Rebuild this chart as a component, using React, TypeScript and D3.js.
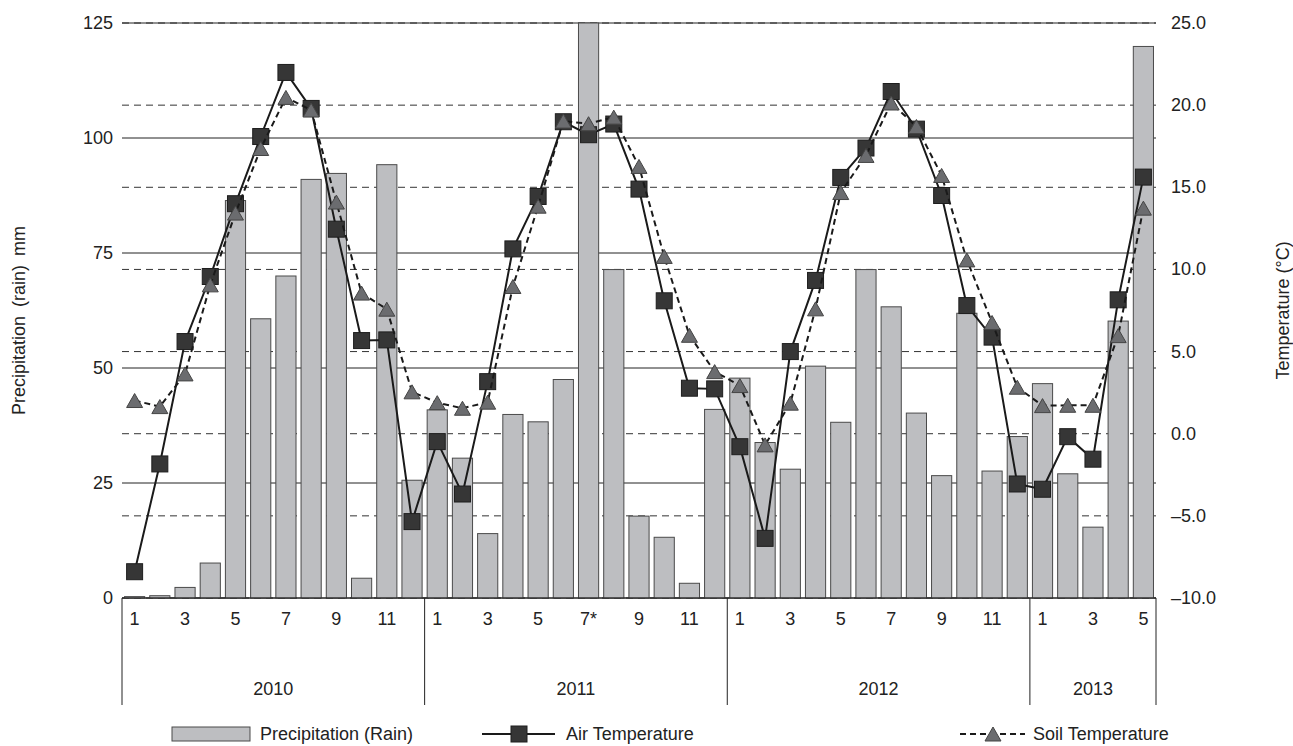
import React from "react";
import * as d3 from "d3";

// Monthly series, Jan 2010 – May 2013
const years = ["2010", "2011", "2012", "2013"];
const monthsPerYear = [12, 12, 12, 5];

const precipitation = [
  0.3, 0.5, 2.3, 7.6, 86.4, 60.7, 70.0, 91.0, 92.3, 4.3, 94.2, 25.6,
  40.9, 30.4, 14.0, 39.9, 38.3, 47.5, 150, 71.4, 17.8, 13.2, 3.2, 41.0,
  47.8, 33.8, 28.0, 50.4, 38.2, 71.4, 63.3, 40.2, 26.6, 61.9, 27.6, 35.1,
  46.6, 27.0, 15.4, 60.2, 119.9,
];

const airTemperature = [
  -8.4, -1.84, 5.61, 9.57, 14.0, 18.09, 21.99, 19.8, 12.45, 5.67, 5.71, -5.35,
  -0.48, -3.67, 3.17, 11.25, 14.44, 18.99, 18.2, 18.85, 14.89, 8.09, 2.77, 2.73,
  -0.79, -6.37, 5.0, 9.33, 15.6, 17.39, 20.83, 18.54, 14.5, 7.8, 5.88, -3.06,
  -3.38, -0.18, -1.55, 8.15, 15.62,
];

const soilTemperature = [
  2.02, 1.65, 3.64, 9.06, 13.43, 17.36, 20.47, 19.7, 14.1, 8.56, 7.58, 2.55,
  1.89, 1.55, 1.92, 8.96, 13.85, 19.03, 18.87, 19.27, 16.27, 10.79, 5.99, 3.78,
  2.93, -0.68, 1.86, 7.6, 14.68, 16.94, 20.13, 18.7, 15.72, 10.58, 6.77, 2.83,
  1.71, 1.73, 1.73, 5.97, 13.73,
];

// Month tick labels shown under the axis (every other month)
const monthTickLabels = [
  ["1", "", "3", "", "5", "", "7", "", "9", "", "11", ""],
  ["1", "", "3", "", "5", "", "7*", "", "9", "", "11", ""],
  ["1", "", "3", "", "5", "", "7", "", "9", "", "11", ""],
  ["1", "", "3", "", "5"],
];

const precipTicks = [0, 25, 50, 75, 100, 125];
const tempTicks = [-10, -5, 0, 5, 10, 15, 20, 25];

const FONT = "Arial, 'Liberation Sans', Helvetica, sans-serif";
const FS = 18;
const TEXT = "#222";

export default function App() {
  const width = 1293;
  const height = 746;
  const left = 122;
  const right = 1156;
  const top = 23;
  const bottom = 598;

  const categories = d3.range(precipitation.length);
  const x = d3
    .scaleBand<number>()
    .domain(categories)
    .range([left, right])
    .paddingInner(0.2)
    .paddingOuter(0.1);
  const xEdge = d3.scaleLinear().domain([0, categories.length]).range([left, right]);
  const cx = (i: number) => (x(i) as number) + x.bandwidth() / 2;

  const yP = d3.scaleLinear().domain([0, 125]).range([bottom, top]).clamp(true);
  const yT = d3.scaleLinear().domain([-10, 25]).range([bottom, top]);

  const tempLine = d3
    .line<number>()
    .x((_, i) => cx(i))
    .y((d) => yT(d));

  // year boundaries in category units
  const yearStarts: number[] = [];
  let acc = 0;
  monthsPerYear.forEach((m) => {
    yearStarts.push(acc);
    acc += m;
  });

  const sq = 16;
  const triW = 16;
  const triH = 14;
  const triPath = (px: number, py: number) =>
    `M${px},${py - triH / 2}L${px + triW / 2},${py + triH / 2}L${px - triW / 2},${py + triH / 2}Z`;

  const ly = 734;

  return (
    <svg
      width={width}
      height={height}
      style={{ position: "absolute", left: 0, top: 0, background: "#fff" }}
      fontFamily={FONT}
    >
      <rect x={0} y={0} width={width} height={height} fill="#fff" />

      {/* temperature grid (dashed) */}
      {tempTicks.map((t) => (
        <line
          key={"tg" + t}
          x1={left}
          x2={right}
          y1={yT(t)}
          y2={yT(t)}
          stroke="#333"
          strokeWidth={1}
          strokeDasharray="7,5"
        />
      ))}
      {/* precipitation grid (solid) */}
      {precipTicks.map((t) => (
        <line
          key={"pg" + t}
          x1={left}
          x2={right}
          y1={yP(t)}
          y2={yP(t)}
          stroke="#222"
          strokeWidth={1}
        />
      ))}

      {/* precipitation bars */}
      {precipitation.map((v, i) => (
        <rect
          key={"b" + i}
          x={x(i)}
          y={yP(v)}
          width={x.bandwidth()}
          height={bottom - yP(v)}
          fill="#bdbec1"
          stroke="#4a4a4a"
          strokeWidth={1}
        />
      ))}

      {/* x axis */}
      <line x1={left} x2={right} y1={bottom} y2={bottom} stroke="#222" strokeWidth={1} />
      {[...yearStarts, categories.length].map((k) => (
        <line
          key={"yd" + k}
          x1={xEdge(k)}
          x2={xEdge(k)}
          y1={bottom}
          y2={705}
          stroke="#222"
          strokeWidth={1}
        />
      ))}
      {monthTickLabels.map((labels, yi) =>
        labels.map((lab, mi) =>
          lab ? (
            <text
              key={`m${yi}-${mi}`}
              x={cx(yearStarts[yi] + mi)}
              y={625}
              fontSize={FS}
              textAnchor="middle"
              fill={TEXT}
            >
              {lab}
            </text>
          ) : null
        )
      )}
      {years.map((yr, yi) => (
        <text
          key={"y" + yr}
          x={(xEdge(yearStarts[yi]) + xEdge(yearStarts[yi] + monthsPerYear[yi])) / 2}
          y={695}
          fontSize={FS}
          textAnchor="middle"
          fill={TEXT}
        >
          {yr}
        </text>
      ))}

      {/* left axis labels */}
      {precipTicks.map((t) => (
        <text
          key={"pl" + t}
          x={113}
          y={yP(t) + 6}
          fontSize={FS}
          textAnchor="end"
          fill={TEXT}
        >
          {t}
        </text>
      ))}
      {/* right axis labels */}
      {tempTicks.map((t) => (
        <text key={"tl" + t} x={1171} y={yT(t) + 6} fontSize={FS} fill={TEXT}>
          {(t < 0 ? "–" : "") + Math.abs(t).toFixed(1)}
        </text>
      ))}

      {/* axis titles */}
      <text
        transform={`translate(25,${(top + bottom) / 2 + 10}) rotate(-90)`}
        fontSize={FS}
        textAnchor="middle"
        fill={TEXT}
        wordSpacing={4}
      >
        Precipitation (rain) mm
      </text>
      <text
        transform={`translate(1289,${(top + bottom) / 2}) rotate(-90)`}
        fontSize={FS}
        textAnchor="middle"
        fill={TEXT}
      >
        Temperature (°C)
      </text>

      {/* air temperature */}
      <path d={tempLine(airTemperature) || ""} fill="none" stroke="#1a1a1a" strokeWidth={2} />
      {airTemperature.map((v, i) => (
        <rect
          key={"a" + i}
          x={cx(i) - sq / 2}
          y={yT(v) - sq / 2}
          width={sq}
          height={sq}
          fill="#363636"
          stroke="#1e1e1e"
          strokeWidth={1}
        />
      ))}

      {/* soil temperature */}
      <path
        d={tempLine(soilTemperature) || ""}
        fill="none"
        stroke="#1a1a1a"
        strokeWidth={2}
        strokeDasharray="6,4"
      />
      {soilTemperature.map((v, i) => (
        <path
          key={"s" + i}
          d={triPath(cx(i), yT(v))}
          fill="#6b6c6f"
          stroke="#444"
          strokeWidth={1}
        />
      ))}

      {/* legend */}
      <rect x={172} y={ly - 7} width={78} height={14} fill="#bdbec1" stroke="#4a4a4a" strokeWidth={1} />
      <text x={260} y={ly + 6} fontSize={FS} fill={TEXT}>
        Precipitation (Rain)
      </text>
      <line x1={482} x2={555} y1={ly} y2={ly} stroke="#1a1a1a" strokeWidth={2} />
      <rect x={519 - sq / 2} y={ly - sq / 2} width={sq} height={sq} fill="#363636" stroke="#1e1e1e" />
      <text x={566} y={ly + 6} fontSize={FS} fill={TEXT}>
        Air Temperature
      </text>
      <line
        x1={960}
        x2={1025}
        y1={ly}
        y2={ly}
        stroke="#1a1a1a"
        strokeWidth={2}
        strokeDasharray="6,4"
      />
      <path d={triPath(993, ly)} fill="#6b6c6f" stroke="#444" strokeWidth={1} />
      <text x={1033} y={ly + 6} fontSize={FS} fill={TEXT}>
        Soil Temperature
      </text>
    </svg>
  );
}
